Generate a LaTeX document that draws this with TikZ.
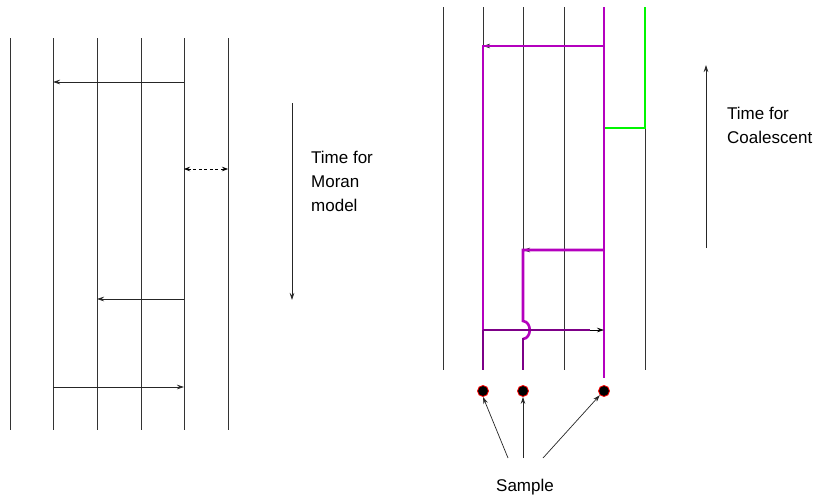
\documentclass[tikz,border=0pt]{standalone}
\usepackage{fontspec}
\setmainfont{Liberation Sans}
\usetikzlibrary{arrows.meta}
\definecolor{mag}{RGB}{180,0,190}
\definecolor{dpurple}{RGB}{125,0,135}
\definecolor{lgreen}{RGB}{0,245,0}
\begin{document}
\begin{tikzpicture}[x=1pt,y=-1pt,
  lineage/.style={draw=black!80, line width=0.9pt},
  arr/.style={-{Stealth[length=7pt,width=4.5pt]}, line width=0.7pt, draw=black!85},
  darr/.style={{Stealth[length=6pt,width=4.5pt]}-{Stealth[length=6pt,width=4.5pt]}, line width=0.7pt, dash pattern=on 3pt off 2.5pt},
  mpath/.style={draw=mag, line width=2.6pt, line join=miter},
  gpath/.style={draw=lgreen, line width=2.6pt, line join=miter},
  txt/.style={font=\fontsize{17}{24}\selectfont, align=left, inner sep=0pt},
  dot/.style={circle, fill=black, draw=red, line width=0.8pt, minimum size=11pt, inner sep=0pt}
]
\useasboundingbox (0,0) rectangle (820,498);

% ---------- Left: Moran model ----------
\foreach \x/\n in {10/a,53/b,97/c,141/d,184/e,228/f}{
  \coordinate (L\n t) at (\x,38);
  \coordinate (L\n b) at (\x,430);
  \draw[lineage] (L\n t) -- (L\n b);
}
\coordinate (m1s) at (184,82);  \coordinate (m1e) at (53,82);
\coordinate (m2s) at (184,169); \coordinate (m2e) at (228,169);
\coordinate (m3s) at (184,299); \coordinate (m3e) at (97,299);
\coordinate (m4s) at (53,387);  \coordinate (m4e) at (184,387);
\draw[arr] (m1s) -- (m1e);
\draw[darr] (m2s) -- (m2e);
\draw[arr] (m3s) -- (m3e);
\draw[arr] (m4s) -- (m4e);

\coordinate (tm1) at (292,103);
\coordinate (tm2) at (292,300);
\draw[arr] (tm1) -- (tm2);
\node[txt, anchor=west] (moran) at (311,181) {Time for\\Moran\\model};

% ---------- Right: Coalescent ----------
\coordinate (R1t) at (443,7); \coordinate (R1b) at (443,370);
\draw[lineage] (R1t) -- (R1b);
% x = 483
\coordinate (R2t) at (483,7); \coordinate (R2a) at (483,46);
\coordinate (R2c) at (483,330); \coordinate (R2b) at (483,370);
\draw[lineage] (R2t) -- (R2a);
\draw[draw=dpurple, line width=1.3pt] (R2c) -- (R2b);
% x = 523
\coordinate (R3t) at (523,7); \coordinate (R3a) at (523,250);
\coordinate (R3b) at (523,370);
\draw[lineage] (R3t) -- (R3a);
% x = 564
\coordinate (R4t) at (564,7); \coordinate (R4b) at (564,370);
\draw[lineage] (R4t) -- (R4b);
% x = 645
\coordinate (R6t) at (645,7); \coordinate (R6a) at (645,128);
\coordinate (R6b) at (645,370);
\draw[lineage] (R6a) -- (R6b);
% x = 604
\coordinate (R5t) at (604,7); \coordinate (R5a) at (604,46);
\coordinate (R5g) at (604,128); \coordinate (R5c) at (604,250);
\coordinate (R5d) at (604,330); \coordinate (R5b) at (604,378);
\coordinate (R5h) at (590,330);

% green lineage
\draw[gpath] (R6t) -- (R6a) -- (R5g);
% magenta lineage
\draw[mpath] (R5t) -- (R5b);
\draw[arr] (R5a) -- (R2a);
\draw[mpath] (R5a) -- (R2a) -- (R2c);
\draw[arr] (R5c) -- (R3a);
\draw[mpath] (R5c) -- (R3a) -- (523,321)
  .. controls (532,322) and (532,338) .. (523,339);
\draw[draw=dpurple, line width=2.4pt] (523,338) -- (R3b);
% crossing arrow at y=330
\draw[draw=dpurple, line width=2.6pt] (R2c) -- (R5h);
\draw[-{Stealth[length=7pt,width=4.5pt]}, line width=0.6pt, draw=black] (R5h) -- (R5d);

% sample
\node[dot] (s1) at (483,391) {};
\node[dot] (s2) at (523,391) {};
\node[dot] (s3) at (604,391) {};
\node[txt] (sample) at (525,487) {Sample};
\coordinate (sa) at (508,458);
\coordinate (sb) at (523,458);
\coordinate (sc) at (543,458);
\draw[arr] (sa) -- (s1.south);
\draw[arr] (sb) -- (s2.south);
\draw[arr] (sc) -- (s3.south west);

\coordinate (tc1) at (706,248);
\coordinate (tc2) at (706,65);
\draw[arr] (tc1) -- (tc2);
\node[txt, anchor=west] (coal) at (727,125) {Time for\\Coalescent};
\end{tikzpicture}
\end{document}
